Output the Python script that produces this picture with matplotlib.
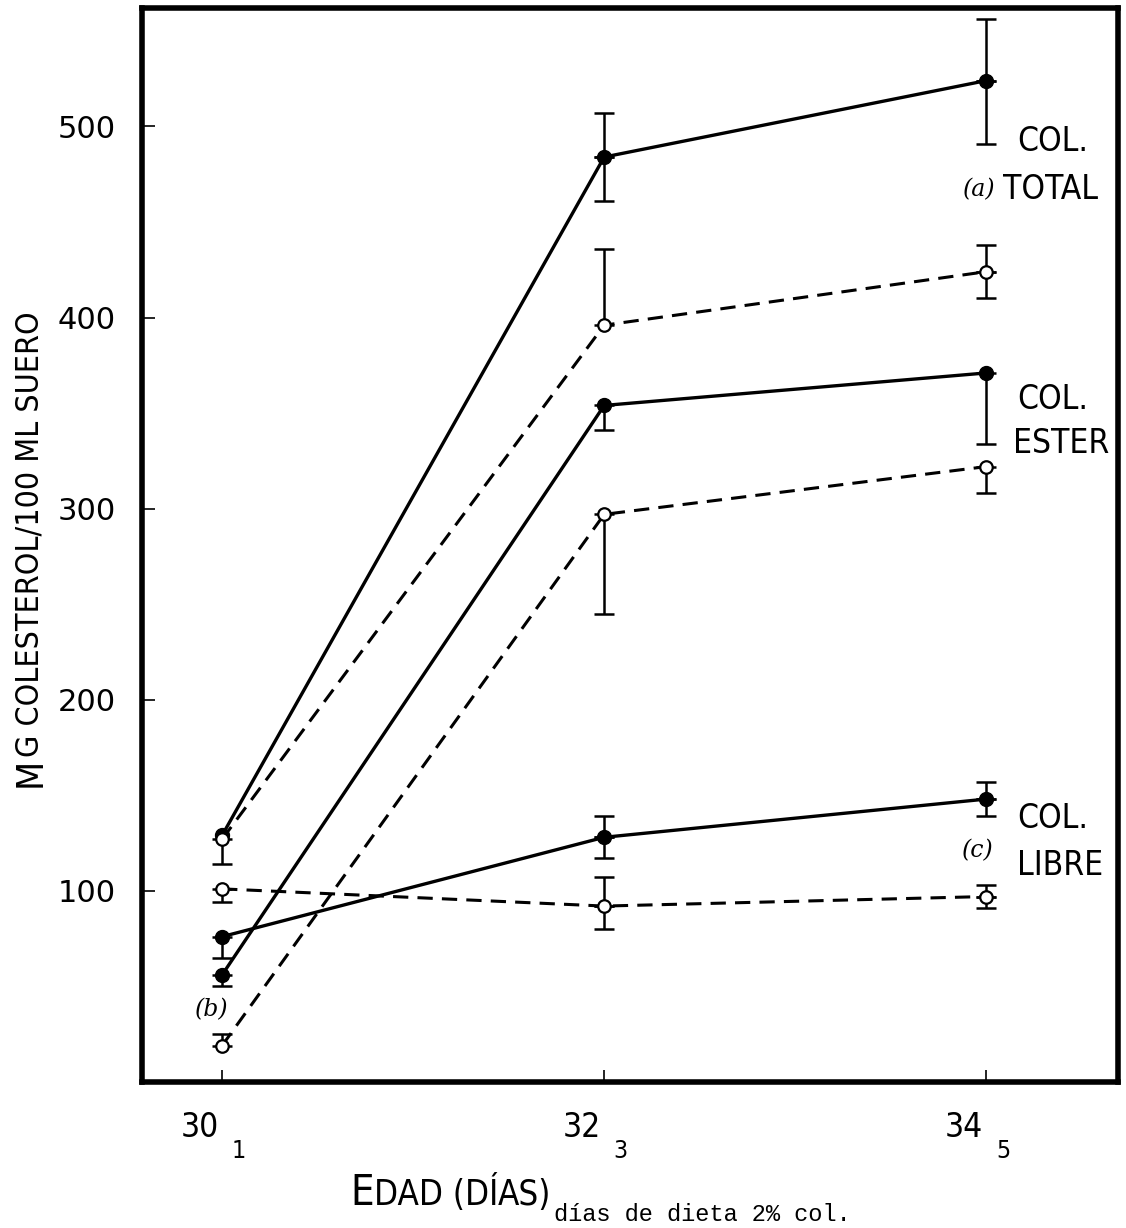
import matplotlib.pyplot as plt
import numpy as np

# --- datos ---
edad = [30, 32, 34]
xtick_num = ["30", "32", "34"]
xtick_sub = ["1", "3", "5"]
yticks = [100, 200, 300, 400, 500]

# (a) colesterol total
total_lleno = [129, 484, 524]
total_lleno_sup = [np.nan, 507, 556]
total_lleno_inf = [np.nan, 461, 491]
total_abierto = [127, 396, 424]
total_abierto_sup = [np.nan, 436, 438]
total_abierto_inf = [114, np.nan, 410]

# (b) colesterol ester
ester_lleno = [56, 354, 371]
ester_lleno_sup = [np.nan, np.nan, np.nan]
ester_lleno_inf = [50, 341, 334]
ester_abierto = [19, 297, 322]
ester_abierto_sup = [25, np.nan, np.nan]
ester_abierto_inf = [np.nan, 245, 308]

# (c) colesterol libre
libre_lleno = [76, 128, 148]
libre_lleno_sup = [np.nan, 139, 157]
libre_lleno_inf = [65, 117, 139]
libre_abierto = [101, 92, 97]
libre_abierto_sup = [np.nan, 107, 103]
libre_abierto_inf = [94, 80, 91]

cond = dict(family="DejaVu Sans", fontstretch="condensed")

fig = plt.figure(figsize=(11.26, 12.28), dpi=100)
ax = fig.add_axes([0.126, 0.119, 0.867, 0.8745])


def barras(ax, y, sup, inf):
    y = np.array(y, float)
    up = np.nan_to_num(np.array(sup, float) - y, nan=0.0)
    lo = np.nan_to_num(y - np.array(inf, float), nan=0.0)
    for i, x in enumerate(edad):
        for err in ([[0], [up[i]]], [[lo[i]], [0]]):
            if max(err[0][0], err[1][0]) > 0:
                ax.errorbar([x], [y[i]], yerr=err, fmt="none",
                            ecolor="black", elinewidth=1.8, capsize=7,
                            capthick=1.8, zorder=2)


series = [
    (total_lleno, total_lleno_sup, total_lleno_inf, True),
    (total_abierto, total_abierto_sup, total_abierto_inf, False),
    (ester_lleno, ester_lleno_sup, ester_lleno_inf, True),
    (ester_abierto, ester_abierto_sup, ester_abierto_inf, False),
    (libre_lleno, libre_lleno_sup, libre_lleno_inf, True),
    (libre_abierto, libre_abierto_sup, libre_abierto_inf, False),
]

for y, sup, inf, lleno in series:
    barras(ax, y, sup, inf)
    if lleno:
        ax.plot(edad, y, "-", color="black", lw=2.4, marker="o",
                ms=10, mfc="black", mec="black", zorder=3)
    else:
        ax.plot(edad, y, color="black", lw=2.2, ls=(0, (5, 3)),
                marker="o", ms=9, mfc="white", mec="black", mew=1.6,
                zorder=3)

ax.set_xlim(29.58, 34.69)
ax.set_ylim(0, 562)
ax.set_xticks(edad)
ax.set_xticklabels([])
ax.set_yticks(yticks)
ax.set_yticklabels([str(v) for v in yticks], fontsize=22)
ax.tick_params(axis="both", direction="in", length=9, width=1.2)
ax.tick_params(axis="y", pad=19)
for s in ax.spines.values():
    s.set_linewidth(4)

# etiquetas del eje x con subindice
trans = ax.get_xaxis_transform()
for x, n, s in zip(edad, xtick_num, xtick_sub):
    ax.text(x - 0.015, -0.027, n, transform=trans, fontsize=24, ha="right",
            va="top", **cond)
    ax.text(x + 0.05, -0.053, s, transform=trans, fontsize=18, ha="left",
            va="top", **cond)

# etiquetas de las curvas
kw = dict(fontsize=24, va="center", ha="left", **cond)
it = dict(fontsize=17, family="DejaVu Serif", style="italic",
          va="center", ha="left")
ax.text(34.16, 492, "COL.", **kw)
ax.text(34.09, 467, "TOTAL", **kw)
ax.text(33.88, 467, "(a)", **it)
ax.text(34.16, 357, "COL.", **kw)
ax.text(34.14, 334, "ESTER", **kw)
ax.text(34.16, 138, "COL.", **kw)
ax.text(34.16, 113, "LIBRE", **kw)
ax.text(33.87, 121, "(c)", **it)
ax.text(29.86, 38, "(b)", **it)

# titulos de ejes, con versalitas armadas por piezas
fig.canvas.draw()
r = fig.canvas.get_renderer()

# eje y (vertical, de abajo hacia arriba)
y0 = 1 - 787 / 1228
t1 = fig.text(0.027, y0, "M", rotation=90, fontsize=27, va="center",
              ha="left", rotation_mode="anchor", **cond)
h1 = t1.get_window_extent(r).height / fig.bbox.height
fig.text(0.027, y0 + h1 + 0.001, "G COLESTEROL/100 ML SUERO", rotation=90,
         fontsize=23, va="center", ha="left", rotation_mode="anchor", **cond)

# eje x
xb = 350 / 1126
yb = 1 - 1205 / 1228
piezas = [("E", 30), ("DAD (", 25), ("D", 25), ("Í", 25), ("AS)", 25)]
x = xb
for txt, fs in piezas:
    t = fig.text(x, yb, txt, fontsize=fs, va="baseline", ha="left", **cond)
    x += t.get_window_extent(r).width / fig.bbox.width
fig.text(x + 0.002, yb - 0.013, "días de dieta 2% col.", fontsize=17,
         family=["Liberation Mono", "DejaVu Sans Mono"], va="baseline")

fig.savefig("out.png", dpi=100)
